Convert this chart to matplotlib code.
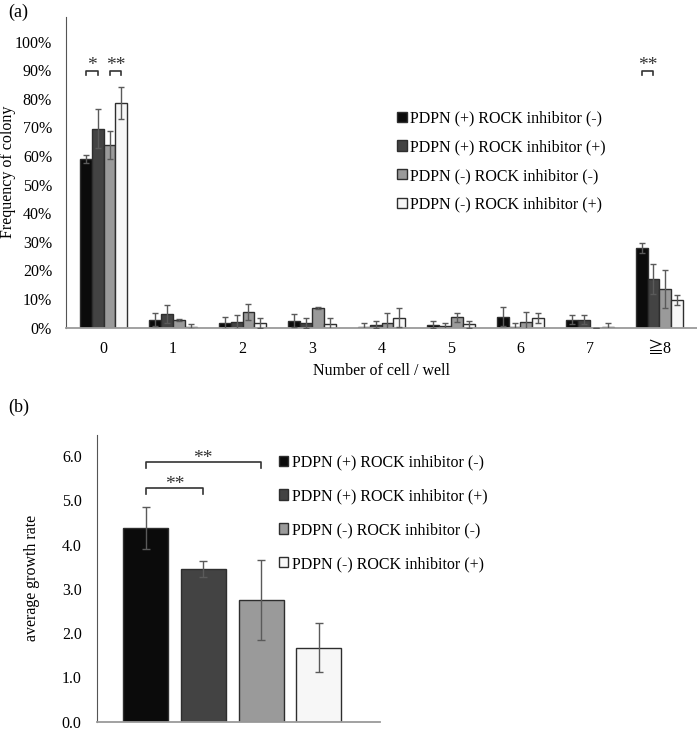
import matplotlib
matplotlib.use("Agg")
import matplotlib.pyplot as plt
import numpy as np

plt.rcParams['font.family'] = ['Liberation Serif', 'DejaVu Serif', 'Noto Sans CJK JP']

# (a) frequency of colony (%) by number of cells per well
cells = ['0', '1', '2', '3', '4', '5', '6', '7', '≧8']
groups = ['PDPN (+) ROCK inhibitor (-)', 'PDPN (+) ROCK inhibitor (+)',
          'PDPN (-) ROCK inhibitor (-)', 'PDPN (-) ROCK inhibitor (+)']
freq_pp_rm = [58.9, 2.7, 1.5, 2.4, 0.3, 1.0, 3.8, 2.8, 27.9]
freq_pp_rp = [69.5, 4.7, 2.0, 1.6, 1.0, 0.5, 0.35, 2.8, 17.1]
freq_pm_rm = [63.8, 2.7, 5.4, 6.9, 1.6, 3.6, 1.9, 0.0, 13.5]
freq_pm_rp = [78.6, 0.35, 1.7, 1.1, 3.5, 1.1, 3.3, 0.25, 9.6]
err_pp_rm = [1.4, 2.3, 2.1, 2.3, 1.2, 1.2, 3.4, 1.5, 1.8]
err_pp_rp = [6.8, 3.1, 2.4, 1.7, 1.2, 1.2, 1.2, 1.5, 5.3]
err_pm_rm = [5.0, 0.4, 2.7, 0.3, 3.5, 1.5, 3.7, 0.0, 6.8]
err_pm_rp = [5.6, 0.9, 1.8, 2.2, 3.3, 1.3, 1.7, 1.3, 1.7]

# (b) average growth rate
growth = [4.38, 3.45, 2.75, 1.67]
growth_err = [0.48, 0.19, 0.90, 0.55]

colors = ['#0b0b0b', '#434343', '#9a9a9a', '#f7f7f7']
edge = '#2e2e2e'
errc = '#5a5a5a'
FS = 11.5

W, H = 697, 731
fig = plt.figure(figsize=(W / 100, H / 100), dpi=100)

# ---------------- panel (a) ----------------
ax1 = fig.add_axes([66 / W, 1 - 327.6 / H, (W - 66) / W, (327.6 - 17) / H])
a_vals = [freq_pp_rm, freq_pp_rp, freq_pm_rm, freq_pm_rp]
a_errs = [err_pp_rm, err_pp_rp, err_pm_rm, err_pm_rp]
x = np.arange(len(cells))
bw = 0.172
for i in range(4):
    pos = x + (i - 1.5) * bw
    ax1.bar(pos, a_vals[i], width=bw, color=colors[i], edgecolor=edge,
            linewidth=1.0, label=groups[i], zorder=2)
    ax1.errorbar(pos, a_vals[i], yerr=a_errs[i], fmt='none', ecolor=errc,
                 elinewidth=1.0, capsize=2.5, capthick=1.0, zorder=3)

ax1.set_xlim(-0.54, 8.54)
ax1.set_ylim(0, 108.6)
ax1.set_yticks(np.arange(0, 101, 10))
ax1.set_yticklabels(['%d%%' % v for v in range(0, 101, 10)])
ax1.set_xticks(x)
ax1.set_xticklabels(cells)
ax1.tick_params(length=0, labelsize=FS)
ax1.tick_params(axis='y', pad=10)
ax1.tick_params(axis='x', pad=10)
for s in ['top', 'right']:
    ax1.spines[s].set_visible(False)
ax1.spines['left'].set_color('#555555')
ax1.spines['bottom'].set_color('#9a9a9a')
ax1.spines['bottom'].set_linewidth(1.3)
ax1.set_xlabel('Number of cell / well', fontsize=FS, labelpad=4)
ax1.set_ylabel('Frequency of colony', fontsize=FS)
ax1.yaxis.set_label_coords((16 - 66) / 631, 0.5)


def bracket(ax, x0, x1, y, leg, label, fs=14):
    ax.plot([x0, x0, x1, x1], [y - leg, y, y, y - leg], color='#333333', lw=1.2, zorder=4)
    ax.text((x0 + x1) / 2, y - leg * 0.8, label, ha='center', va='bottom', fontsize=fs,
            color='#333333')


bracket(ax1, -1.5 * bw, -0.5 * bw, 89.7, 1.4, '*')
bracket(ax1, 0.5 * bw, 1.5 * bw, 89.7, 1.4, '**')
bracket(ax1, 8 - 1.5 * bw, 8 - 0.5 * bw, 89.7, 1.4, '**')

ax1.legend(loc='upper left', bbox_to_anchor=(0.515, 0.72), frameon=False, fontsize=FS,
           handlelength=0.6, handleheight=0.6, handletextpad=0.2, labelspacing=0.8,
           borderaxespad=0)

fig.text(8 / W, 1 - 12 / H, '(a)', fontsize=13, va='center', ha='left')

# ---------------- panel (b) ----------------
ax2 = fig.add_axes([97 / W, 1 - 721.5 / H, (380 - 97) / W, (721.5 - 435) / H])
xb = np.arange(len(growth))
bars = ax2.bar(xb, growth, width=0.78, color=colors, edgecolor=edge, linewidth=1.0, zorder=2)
ax2.errorbar(xb, growth, yerr=growth_err, fmt='none', ecolor=errc, elinewidth=1.0,
             capsize=3, capthick=1.0, zorder=3)
ax2.set_xlim(-0.84, 4.06)
ax2.set_ylim(0, 6.48)
ax2.set_yticks(np.arange(0, 6.1, 1.0))
ax2.set_yticklabels(['%.1f' % v for v in np.arange(0, 6.1, 1.0)])
ax2.set_xticks([])
ax2.tick_params(length=0, labelsize=FS, pad=11)
for s in ['top', 'right']:
    ax2.spines[s].set_visible(False)
ax2.spines['left'].set_color('#555555')
ax2.spines['bottom'].set_color('#9a9a9a')
ax2.spines['bottom'].set_linewidth(1.3)
ax2.set_ylabel('average growth rate', fontsize=FS)
ax2.yaxis.set_label_coords((40 - 97) / 283, 0.5)

bracket(ax2, 0, 1, 5.27, 0.12, '**')
bracket(ax2, 0, 2, 5.86, 0.12, '**')

ax2.legend(bars, groups, loc='upper left', bbox_to_anchor=(0.62, 0.955), frameon=False,
           fontsize=FS, handlelength=0.6, handleheight=0.6, handletextpad=0.2,
           labelspacing=1.12, borderaxespad=0)

fig.text(8 / W, 1 - 407 / H, '(b)', fontsize=13, va='center', ha='left')

fig.savefig('out.png', dpi=100)
